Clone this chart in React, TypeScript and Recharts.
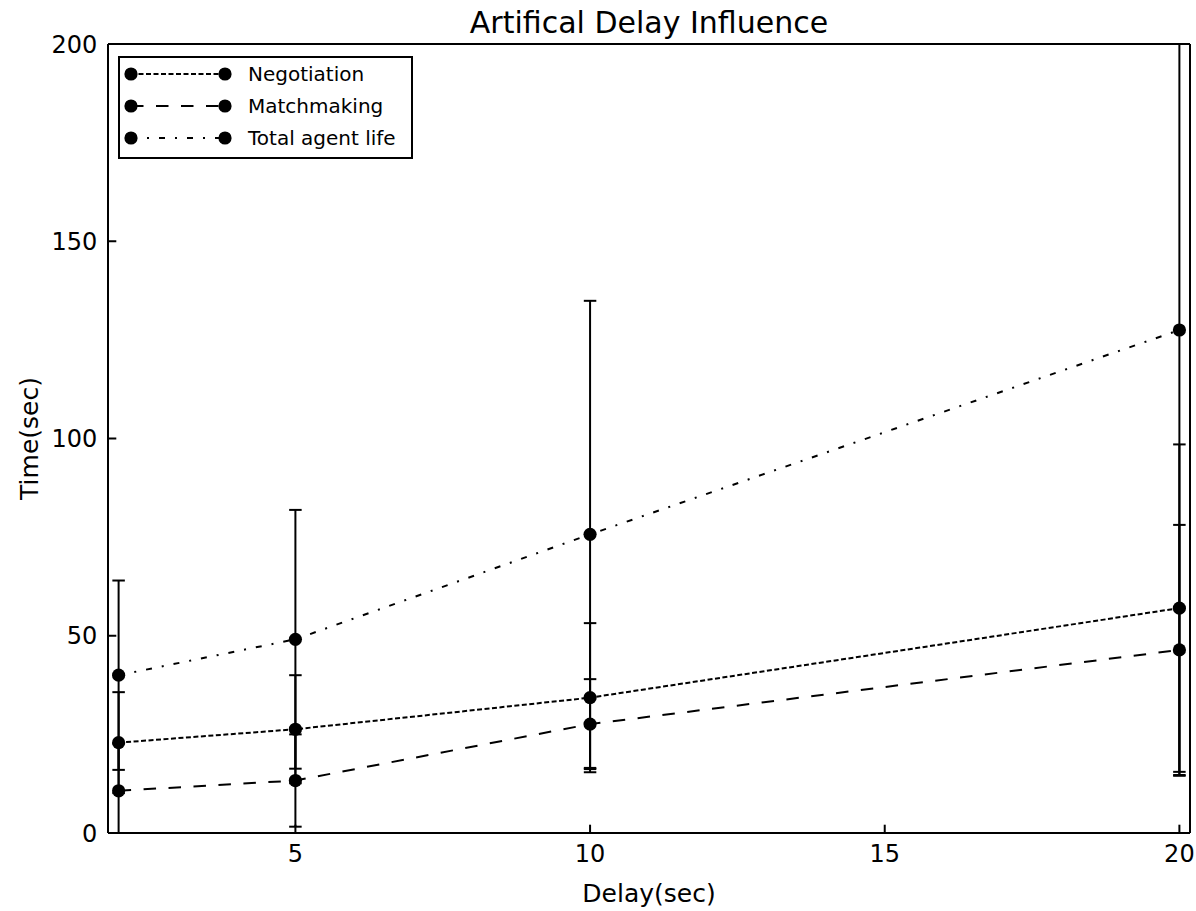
import React from "react";
import { LineChart, Line, XAxis, YAxis, ErrorBar, Legend } from "recharts";

const delays = [2, 5, 10, 20];
const negotiation = [22.9, 26.3, 34.3, 57.0];
const negotiationErr = [12.8, 13.7, 18.9, 41.5];
const matchmaking = [10.7, 13.3, 27.6, 46.4];
const matchmakingErr = [12.0, 11.7, 11.4, 31.7];
const totalLife = [40.0, 49.1, 75.7, 127.5];
const totalLifeErr = [24.0, 32.8, 59.2, 113.0];
const xTicks = [5, 10, 15, 20];
const yTicks = [0, 50, 100, 150, 200];

const FONT = "'DejaVu Sans', sans-serif";
const W = 1196;
const H = 911;
const DOT_R = 6.6;
const margin = { top: 43, right: 5, left: 0, bottom: 38 };
const Y_AXIS_W = 108;
const X_AXIS_H = 40;
// plot area, used only to clip the error bars like matplotlib does
const plot = {
  x: margin.left + Y_AXIS_W,
  y: margin.top + 1,
  w: W - margin.left - Y_AXIS_W - margin.right - 1,
  h: H - margin.top - 1 - margin.bottom - X_AXIS_H,
};

const series = [
  { key: "negotiation", err: "negotiationErr", name: "Negotiation", dash: "5 2.5" },
  { key: "matchmaking", err: "matchmakingErr", name: "Matchmaking", dash: "12.5 12.5" },
  { key: "totalLife", err: "totalLifeErr", name: "Total agent life", dash: "6 10 2 10" },
];

const chartData = delays.map((d, i) => ({
  delay: d,
  negotiation: negotiation[i],
  negotiationErr: negotiationErr[i],
  matchmaking: matchmaking[i],
  matchmakingErr: matchmakingErr[i],
  totalLife: totalLife[i],
  totalLifeErr: totalLifeErr[i],
}));

function LegendBox() {
  return (
    <svg width={295} height={103} style={{ display: "block" }}>
      <rect x={1} y={1} width={293} height={101} fill="#fff" stroke="#000" strokeWidth={2} />
      {series.map((s, i) => {
        const y = 18 + i * 32;
        return (
          <g key={s.key}>
            <line x1={13} x2={107} y1={y} y2={y} stroke="#000" strokeWidth={2} strokeDasharray={s.dash} />
            <circle cx={13} cy={y} r={DOT_R} fill="#000" />
            <circle cx={107} cy={y} r={DOT_R} fill="#000" />
            <text x={130} y={y} dy="0.35em" fontSize={20} fontFamily={FONT} fill="#000">
              {s.name}
            </text>
          </g>
        );
      })}
    </svg>
  );
}

const axisStyle = { fontSize: 24, fontFamily: FONT, fill: "#000" };
const lineStyle = { stroke: "#000", strokeWidth: 2 };

export default function App() {
  return (
    <div style={{ position: "absolute", left: 0, top: 0, width: W, height: H, background: "#fff" }}>
      <style>{`.recharts-errorBar, .recharts-errorBars { clip-path: url(#plotAreaClip); }`}</style>
      <svg width={0} height={0} style={{ position: "absolute" }}>
        <defs>
          <clipPath id="plotAreaClip">
            <rect x={plot.x} y={plot.y} width={plot.w} height={plot.h} />
          </clipPath>
        </defs>
      </svg>
      <LineChart width={W} height={H} data={chartData} margin={margin}>
        <XAxis
          dataKey="delay"
          type="number"
          domain={[1.82, 20.18]}
          ticks={xTicks}
          interval={0}
          allowDataOverflow
          height={X_AXIS_H}
          tickSize={-8.3}
          tickMargin={20}
          tick={axisStyle}
          axisLine={lineStyle}
          tickLine={lineStyle}
          label={{
            content: ({ viewBox }: any) => (
              <text x={viewBox.x + viewBox.width / 2} y={902} textAnchor="middle" fontSize={25} fontFamily={FONT} fill="#000">
                Delay(sec)
              </text>
            ),
          }}
        />
        <XAxis
          xAxisId="top"
          orientation="top"
          dataKey="delay"
          type="number"
          domain={[1.82, 20.18]}
          ticks={xTicks}
          interval={0}
          allowDataOverflow
          height={1}
          tickSize={-8.3}
          tick={false}
          axisLine={lineStyle}
          tickLine={lineStyle}
          label={{
            content: ({ viewBox }: any) => (
              <text x={viewBox.x + viewBox.width / 2} y={33} textAnchor="middle" fontSize={30} fontFamily={FONT} fill="#000">
                Artifical Delay Influence
              </text>
            ),
          }}
        />
        <YAxis
          type="number"
          domain={[0, 200]}
          ticks={yTicks}
          interval={0}
          allowDataOverflow
          width={Y_AXIS_W}
          tickSize={-8.3}
          tickMargin={19}
          tick={axisStyle}
          axisLine={lineStyle}
          tickLine={lineStyle}
          label={{
            content: ({ viewBox }: any) => {
              const cy = viewBox.y + viewBox.height / 2;
              return (
                <text x={38} y={cy} transform={`rotate(-90 38 ${cy})`} textAnchor="middle" fontSize={25} fontFamily={FONT} fill="#000">
                  Time(sec)
                </text>
              );
            },
          }}
        />
        <YAxis
          yAxisId="right"
          orientation="right"
          type="number"
          domain={[0, 200]}
          ticks={yTicks}
          interval={0}
          allowDataOverflow
          width={1}
          tickSize={-8.3}
          tick={false}
          axisLine={lineStyle}
          tickLine={lineStyle}
        />
        <Legend
          layout="vertical"
          align="center"
          verticalAlign="middle"
          wrapperStyle={{ left: 118, top: 56, width: 295, height: 103 }}
          content={() => <LegendBox />}
        />
        {/* invisible series so the top and right frame axes get drawn */}
        <Line
          xAxisId="top"
          yAxisId="right"
          dataKey="totalLife"
          stroke="none"
          dot={false}
          activeDot={false}
          legendType="none"
          isAnimationActive={false}
        />
        {series.map((s) => (
          <Line
            key={s.key}
            type="linear"
            dataKey={s.key}
            name={s.name}
            stroke="#000"
            strokeWidth={2}
            strokeDasharray={s.dash}
            dot={{ r: DOT_R, fill: "#000", stroke: "#000", strokeWidth: 0 }}
            activeDot={false}
            isAnimationActive={false}
          >
            <ErrorBar dataKey={s.err} width={6.25} stroke="#000" strokeWidth={2} direction="y" />
          </Line>
        ))}
      </LineChart>
    </div>
  );
}
